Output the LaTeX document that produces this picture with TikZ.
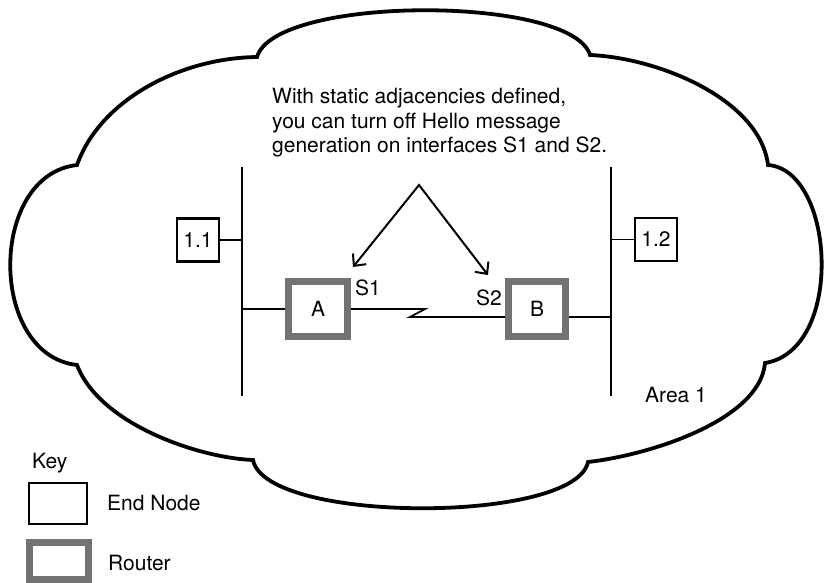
\documentclass[tikz,border=0pt]{standalone}
\usepackage{fontspec}
\setmainfont{TeX Gyre Heros}
\usetikzlibrary{arrows.meta}
\newcommand{\labelfont}{\fontsize{21}{24.5}\selectfont}
\begin{document}
\begin{tikzpicture}[x=1pt,y=1pt,
  cloud/.style={line width=3.8pt, line join=miter, miter limit=4},
  wire/.style={line width=1.8pt},
  bus/.style={line width=2.3pt},
  endnode/.style={draw, line width=2.2pt, inner sep=0pt, font=\labelfont},
  router/.style={draw=black!55, line width=7pt, inner sep=0pt, fill=white, font=\labelfont},
  lbl/.style={inner sep=0pt, font=\labelfont},
  pointer/.style={line width=2pt, line join=miter,
    {Straight Barb[length=9pt,width=17pt]}-{Straight Barb[length=9pt,width=17pt]}}
]
\useasboundingbox (0,0) rectangle (826,-582);

% Area 1 cloud outline
\draw[cloud] (77,-165) .. controls (100,-100) and (180,-58) .. (257,-57)
  .. controls (275,5) and (572,5) .. (590,-55)
  .. controls (660,-58) and (760,-100) .. (768,-165)
  .. controls (835,-170) and (845,-350) .. (765,-363)
  .. controls (760,-420) and (650,-455) .. (588,-462)
  .. controls (575,-524) and (266,-524) .. (253,-460)
  .. controls (200,-458) and (100,-425) .. (77,-365)
  .. controls (-12,-355) and (-12,-175) .. cycle;

% LAN segments
\coordinate (busLtop) at (242,-167);
\coordinate (busLbot) at (242,-396);
\coordinate (busRtop) at (611,-167);
\coordinate (busRbot) at (611,-396);
\draw[bus] (busLtop) -- (busLbot);
\draw[bus] (busRtop) -- (busRbot);

% end nodes
\node[endnode, minimum width=42pt, minimum height=43pt] (n11) at (198,-240) {1.1};
\node[endnode, minimum width=42pt, minimum height=43pt] (n12) at (656,-239.5) {1.2};
\draw[wire] (n11.east) -- (n11.east -| busLtop);
\draw[wire] (n12.west) -- (n12.west -| busRtop);

% routers
\node[router, minimum width=59pt, minimum height=55pt] (A) at (318,-309) {A};
\node[router, minimum width=57pt, minimum height=55pt] (B) at (537,-309) {B};

% links
\coordinate (zig1) at (425,-309);
\coordinate (zig2) at (410,-317);
\draw[wire] (A.west) -- (A.west -| busLtop);
\draw[wire, line join=miter] (A.east) -- (zig1) -- (zig2) -- ([yshift=-8pt]B.west);
\draw[wire] ([yshift=-8pt]B.east) -- ([yshift=-8pt]B.east -| busRtop);

% interface labels
\node[lbl, anchor=base west] (s1) at (355,-295) {S1};
\node[lbl, anchor=base west] (s2) at (476,-305) {S2};

% note and pointers
\node[lbl, anchor=north west, align=left] (note) at (272,-88)
  {With static adjacencies defined,\\you can turn off Hello message\\generation on interfaces S1 and S2.};
\coordinate (apex) at (419,-185);
\coordinate (tipA) at (353,-267);
\coordinate (tipB) at (488,-275);
\draw[pointer] (tipA) -- (apex) -- (tipB);

\node[lbl, anchor=base west] (area) at (645,-402) {Area 1};

% key
\node[lbl, anchor=base west] (key) at (32,-468) {Key};
\node[endnode, minimum width=58pt, minimum height=41pt] (keyend) at (58,-503.5) {};
\node[lbl, anchor=base west] (keyendlbl) at (107,-510) {End Node};
\node[router, minimum width=59pt, minimum height=37pt] (keyrouter) at (59,-561) {};
\node[lbl, anchor=base west] (keyrouterlbl) at (108,-570) {Router};
\end{tikzpicture}
\end{document}
